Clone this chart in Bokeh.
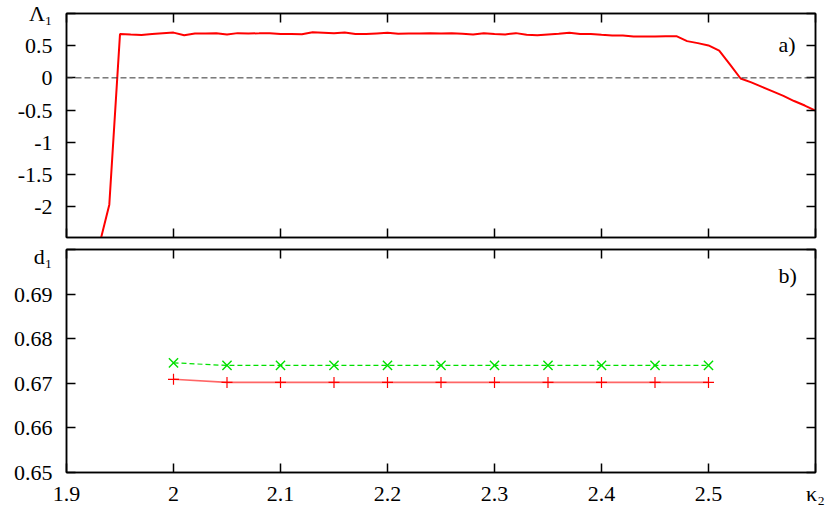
from bokeh.plotting import figure
from bokeh.models import (Range1d, LinearAxis, FixedTicker, Label, Span,
                          CustomJSTickFormatter)
from bokeh.layouts import column
from bokeh.embed import file_html
from bokeh.resources import INLINE

# ---------------- data ----------------
kappa_a = [1.93, 1.94, 1.95, 1.96, 1.97, 1.98, 1.99, 2.00, 2.01, 2.02, 2.03,
           2.04, 2.05, 2.06, 2.07, 2.08, 2.09, 2.10, 2.11, 2.12, 2.13, 2.14,
           2.15, 2.16, 2.17, 2.18, 2.19, 2.20, 2.21, 2.22, 2.23, 2.24, 2.25,
           2.26, 2.27, 2.28, 2.29, 2.30, 2.31, 2.32, 2.33, 2.34, 2.35, 2.36,
           2.37, 2.38, 2.39, 2.40, 2.41, 2.42, 2.43, 2.44, 2.45, 2.46, 2.47,
           2.48, 2.49, 2.50, 2.51, 2.52, 2.53, 2.54, 2.55, 2.56, 2.57, 2.58,
           2.59, 2.60]
lambda_1 = [-2.64, -1.97, 0.680, 0.672, 0.665, 0.680, 0.692, 0.703, 0.662, 0.688, 0.690,
            0.693, 0.672, 0.695, 0.690, 0.692, 0.695, 0.683, 0.683, 0.678, 0.710, 0.702,
            0.692, 0.705, 0.680, 0.680, 0.690, 0.700, 0.685, 0.690, 0.690, 0.695, 0.690,
            0.695, 0.685, 0.675, 0.695, 0.680, 0.675, 0.695, 0.669, 0.664, 0.675, 0.685,
            0.700, 0.680, 0.680, 0.669, 0.659, 0.659, 0.643, 0.643, 0.643, 0.648, 0.648,
            0.571, 0.540, 0.504, 0.422, 0.210, -0.01, -0.07, -0.14, -0.21, -0.28, -0.36,
            -0.43, -0.51]

kappa_b = [2.00, 2.05, 2.10, 2.15, 2.20, 2.25, 2.30, 2.35, 2.40, 2.45, 2.50]
d1_plus = [0.6709, 0.6702, 0.6702, 0.6702, 0.6702, 0.6702, 0.6702, 0.6702,
           0.6702, 0.6702, 0.6702]
d1_cross = [0.6746, 0.6740, 0.6740, 0.6740, 0.6740, 0.6740, 0.6740, 0.6740,
            0.6740, 0.6740, 0.6740]

x_ticks = [1.9, 2.0, 2.1, 2.2, 2.3, 2.4, 2.5, 2.6]
ya_ticks = [-2, -1.5, -1, -0.5, 0, 0.5, 1.0]
yb_ticks = [0.65, 0.66, 0.67, 0.68, 0.69, 0.70]

# axis names written in place of the tick label at the axis end
x_name = (2.6, "κ₂")
ya_name = (1.0, "Λ₁")
yb_name = (0.70, "d₁")

FONT = "Liberation Serif"
FS = "22px"


def make_formatter(name):
    return CustomJSTickFormatter(
        args=dict(nv=name[0], nt=name[1]),
        code="if (Math.abs(tick - nv) < 1e-9) { return nt; } return String(tick);")


def make_axis(ticks, show_labels, standoff=6, name=None):
    if name is not None:
        fmt = make_formatter(name)
    else:
        fmt = CustomJSTickFormatter(code="return String(tick);")
    ax = LinearAxis(ticker=FixedTicker(ticks=ticks), formatter=fmt)
    ax.minor_tick_line_color = None
    ax.major_tick_in = 9
    ax.major_tick_out = 0
    ax.axis_line_width = 1.5
    ax.axis_line_color = "black"
    ax.major_tick_line_width = 1.5
    ax.major_tick_line_color = "black"
    ax.major_label_text_font = FONT
    ax.major_label_text_color = "black"
    if show_labels:
        ax.major_label_text_font_size = FS
        ax.major_label_standoff = standoff
    else:
        ax.major_label_text_font_size = "0px"
        ax.major_label_standoff = 0
    return ax


x_range = Range1d(1.9, 2.6)

# ---------------- panel a ----------------
p1 = figure(width=830, height=243, x_range=x_range, y_range=Range1d(-2.48, 1.0),
            output_backend="svg", toolbar_location=None,
            x_axis_type=None, y_axis_type=None,
            min_border_left=66, min_border_right=15, min_border_top=13, min_border_bottom=6)
p1.add_layout(make_axis(x_ticks, False), "below")
p1.add_layout(make_axis(x_ticks, False), "above")
p1.add_layout(make_axis(ya_ticks, True, 14, ya_name), "left")
p1.add_layout(make_axis(ya_ticks, False), "right")
p1.xgrid.visible = False
p1.ygrid.visible = False
p1.outline_line_color = "black"
p1.outline_line_width = 1.5

p1.add_layout(Span(location=0, dimension="width", line_color="#333333",
                   line_width=1, line_dash="6 3"))
p1.line(kappa_a, lambda_1, line_color="#ff0000", line_width=2)

p1.add_layout(Label(x=2.5654, y=0.5175, text="a)", text_font=FONT, text_font_size=FS,
                    text_baseline="alphabetic", text_align="left", text_color="black"))

# ---------------- panel b ----------------
p2 = figure(width=830, height=271, x_range=x_range, y_range=Range1d(0.65, 0.70),
            output_backend="svg", toolbar_location=None,
            x_axis_type=None, y_axis_type=None,
            min_border_left=66, min_border_right=15, min_border_top=6, min_border_bottom=42)
p2.add_layout(make_axis(x_ticks, True, 8, x_name), "below")
p2.add_layout(make_axis(x_ticks, False), "above")
p2.add_layout(make_axis(yb_ticks, True, 14, yb_name), "left")
p2.add_layout(make_axis(yb_ticks, False), "right")
p2.xgrid.visible = False
p2.ygrid.visible = False
p2.outline_line_color = "black"
p2.outline_line_width = 1.5

p2.line(kappa_b, d1_plus, line_color="#ff0000", line_alpha=0.6, line_width=1.6)
p2.scatter(kappa_b, d1_plus, marker="cross", size=11, line_color="#ff0000", line_width=1.2)
p2.line(kappa_b, d1_cross, line_color="#00e000", line_width=1.2, line_dash="5 3")
p2.scatter(kappa_b, d1_cross, marker="x", size=13, line_color="#00e000", line_width=1.4)

p2.add_layout(Label(x=2.5654, y=0.69417, text="b)", text_font=FONT, text_font_size=FS,
                    text_baseline="alphabetic", text_align="left", text_color="black"))

layout = column(p1, p2, spacing=0)
open("out.html", "w").write(file_html(layout, INLINE))
